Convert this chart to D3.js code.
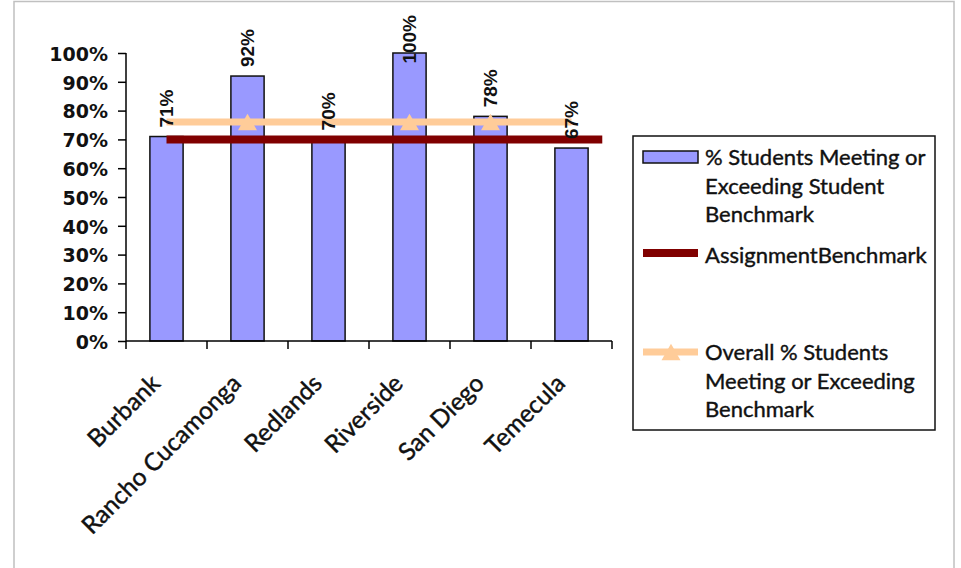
<!DOCTYPE html>
<html>
<head>
<meta charset="utf-8">
<script src="https://cdn.jsdelivr.net/npm/d3@7/dist/d3.min.js"></script>
<style>
  html, body { margin: 0; padding: 0; background: #fff; }
  svg { display: block; }
</style>
</head>
<body>
<svg id="chart" width="961" height="568"></svg>
<script>
// ---- data ----
const categories = ["Burbank", "Rancho Cucamonga", "Redlands", "Riverside", "San Diego", "Temecula"];
const studentPct = [0.71, 0.92, 0.70, 1.00, 0.78, 0.67];
const assignmentBenchmark = [0.70, 0.70, 0.70, 0.70, 0.70, 0.70];
const overallPct = [0.76, 0.76, 0.76, 0.76, 0.76, 0.76];
const yTicks = [0, 0.1, 0.2, 0.3, 0.4, 0.5, 0.6, 0.7, 0.8, 0.9, 1.0];
const legendItems = [
  ["% Students Meeting or", "Exceeding Student", "Benchmark"],
  ["AssignmentBenchmark"],
  ["Overall % Students", "Meeting or Exceeding", "Benchmark"]
];

// ---- layout ----
const svg = d3.select("#chart");
const plot = { left: 126, right: 612, top: 53, bottom: 341 };
const BAR = "#9999FF", RED = "#800000", PEACH = "#FFCC99";
const fmt = d3.format(".0%");

// frame
svg.append("rect").attr("x", 14).attr("y", 1.5).attr("width", 940).attr("height", 600)
  .attr("fill", "#fff").attr("stroke", "#c0c0c0").attr("stroke-width", 1.5);

const x = d3.scaleBand().domain(categories).range([plot.left, plot.right]).paddingInner(0).paddingOuter(0);
const y = d3.scaleLinear().domain([0, 1]).range([plot.bottom, plot.top]);
const bw = x.bandwidth();
const cx = c => x(c) + bw / 2;
const barW = bw * 0.41;

// bars
svg.append("g").selectAll("rect").data(categories).join("rect")
  .attr("x", c => cx(c) - barW / 2)
  .attr("y", (c, i) => y(studentPct[i]))
  .attr("width", barW)
  .attr("height", (c, i) => y(0) - y(studentPct[i]))
  .attr("fill", BAR).attr("stroke", "#111").attr("stroke-width", 1.5);

// y axis
const yAxis = d3.axisLeft(y).tickValues(yTicks).tickFormat(fmt).tickSize(8).tickPadding(10);
const gy = svg.append("g").attr("transform", `translate(${plot.left},0)`).call(yAxis);
gy.select(".domain").attr("stroke", "#000").attr("stroke-width", 1.5).attr("d", `M-0,${plot.top}V${plot.bottom}`);
gy.selectAll(".tick line").attr("stroke", "#000").attr("stroke-width", 1.5);
gy.selectAll(".tick text").attr("font-family", "DejaVu Sans").attr("font-weight", "bold")
  .attr("font-size", 19).attr("fill", "#111").attr("dy", "0.38em");

// x axis: ticks at band boundaries
const boundaries = categories.map(c => x(c)).concat([plot.right]);
const gx = svg.append("g");
gx.append("line").attr("x1", plot.left).attr("x2", plot.right).attr("y1", plot.bottom).attr("y2", plot.bottom)
  .attr("stroke", "#000").attr("stroke-width", 1.5);
gx.selectAll("line.tk").data(boundaries).join("line").attr("class", "tk")
  .attr("x1", d => d).attr("x2", d => d).attr("y1", plot.bottom).attr("y2", plot.bottom + 8)
  .attr("stroke", "#000").attr("stroke-width", 1.5);
gx.selectAll("text").data(categories).join("text")
  .attr("transform", c => `translate(${cx(c) - 5},${plot.bottom + 44}) rotate(-45)`)
  .attr("text-anchor", "end")
  .attr("font-family", "Lato").attr("font-size", 24.5).attr("fill", "#111")
  .attr("stroke", "#111").attr("stroke-width", 0.45)
  .text(c => c);

// assignment benchmark line (extends past last category)
const redLine = d3.line().x(d => d[0]).y(d => y(d[1]));
const redPts = categories.map((c, i) => [cx(c), assignmentBenchmark[i]]);
redPts.push([cx(categories[categories.length - 1]) + bw * 0.38, assignmentBenchmark[assignmentBenchmark.length - 1]]);
svg.append("path").attr("d", redLine(redPts)).attr("fill", "none").attr("stroke", RED).attr("stroke-width", 8);

// overall line
const overallLine = d3.line().x((d, i) => cx(categories[i])).y(d => y(d));
svg.append("path").attr("d", overallLine(overallPct)).attr("fill", "none").attr("stroke", PEACH).attr("stroke-width", 7);

// data labels (vertical)
const labelTopLimit = 15;
const labelG = svg.append("g");
const labels = labelG.selectAll("text").data(categories).join("text")
  .attr("font-family", "Liberation Sans").attr("font-weight", "bold").attr("font-size", 19)
  .attr("fill", "#111").attr("text-anchor", "start").attr("dy", "0.35em")
  .text((c, i) => fmt(studentPct[i]));
const labelSpans = [];
labels.each(function (c, i) {
  const len = this.getComputedTextLength();
  let a = y(studentPct[i]) - 9;
  if (a - len < labelTopLimit) a = labelTopLimit + len;
  labelSpans[i] = [a - len, a];
  d3.select(this).attr("transform", `translate(${cx(c)},${a}) rotate(-90)`);
});

// triangle markers (Excel hides those covered by a data label)
const tri = d3.symbol(d3.symbolTriangle, 156);
svg.append("g").selectAll("path").data(categories.filter((c, i) => {
  const ly = y(overallPct[i]);
  return !(ly > labelSpans[i][0] && ly < labelSpans[i][1]);
})).join("path")
  .attr("d", tri)
  .attr("transform", c => `translate(${cx(c)},${y(overallPct[categories.indexOf(c)]) + 2.7})`)
  .attr("fill", PEACH);

// bring labels to front
labelG.raise();

// ---- legend ----
const lg = svg.append("g");
lg.append("rect").attr("x", 633).attr("y", 136).attr("width", 302).attr("height", 294)
  .attr("fill", "#fff").attr("stroke", "#111").attr("stroke-width", 1.5);
const lineH = 28.5;
const itemY = [165, 263, 360];
legendItems.forEach((lines, k) => {
  const t = lg.append("text").attr("font-family", "Lato").attr("font-size", 22).attr("fill", "#111")
    .attr("stroke", "#111").attr("stroke-width", 0.4);
  lines.forEach((s, j) => t.append("tspan").attr("x", 705).attr("y", itemY[k] + j * lineH).text(s));
});
lg.append("rect").attr("x", 643).attr("y", 151).attr("width", 55).attr("height", 12)
  .attr("fill", BAR).attr("stroke", "#111").attr("stroke-width", 1.5);
lg.append("line").attr("x1", 643).attr("x2", 698).attr("y1", 253).attr("y2", 253)
  .attr("stroke", RED).attr("stroke-width", 8);
lg.append("line").attr("x1", 643).attr("x2", 698).attr("y1", 352).attr("y2", 352)
  .attr("stroke", PEACH).attr("stroke-width", 7);
lg.append("path").attr("d", tri).attr("transform", "translate(671,354.7)").attr("fill", PEACH);
</script>
</body>
</html>
